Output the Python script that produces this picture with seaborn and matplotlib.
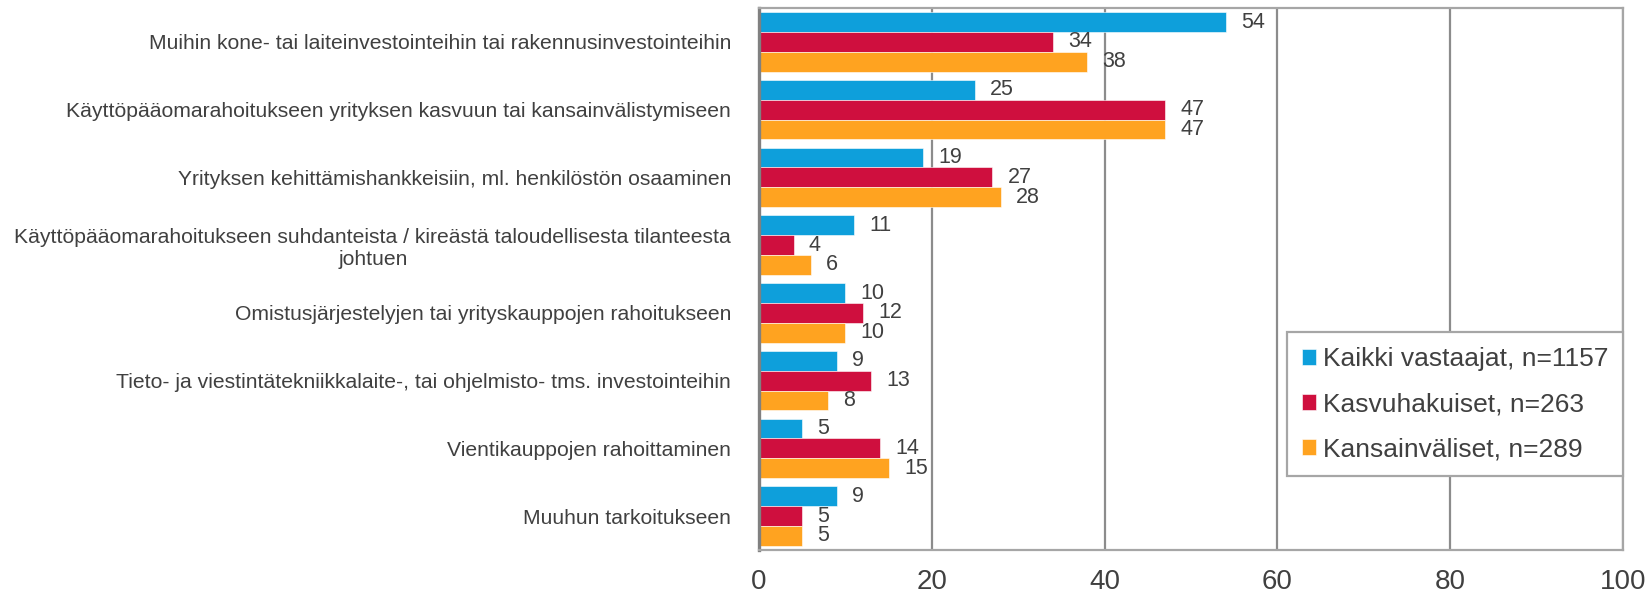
import pandas as pd
import seaborn as sns
import matplotlib.pyplot as plt

kategoriat = [
    "Muihin kone- tai laiteinvestointeihin tai rakennusinvestointeihin",
    "Käyttöpääomarahoitukseen yrityksen kasvuun tai kansainvälistymiseen",
    "Yrityksen kehittämishankkeisiin, ml. henkilöstön osaaminen",
    "Käyttöpääomarahoitukseen suhdanteista / kireästä taloudellisesta tilanteesta\njohtuen",
    "Omistusjärjestelyjen tai yrityskauppojen rahoitukseen",
    "Tieto- ja viestintätekniikkalaite-, tai ohjelmisto- tms. investointeihin",
    "Vientikauppojen rahoittaminen",
    "Muuhun tarkoitukseen",
]
ryhmat = ["Kaikki vastaajat, n=1157", "Kasvuhakuiset, n=263", "Kansainväliset, n=289"]
kaikki = [54, 25, 19, 11, 10, 9, 5, 9]
kasvuhakuiset = [34, 47, 27, 4, 12, 13, 14, 5]
kansainvaliset = [38, 47, 28, 6, 10, 8, 15, 5]
varit = ["#0E9FDB", "#CF0F3E", "#FFA320"]

df = pd.DataFrame({
    "kategoria": kategoriat * 3,
    "ryhma": [ryhmat[0]] * 8 + [ryhmat[1]] * 8 + [ryhmat[2]] * 8,
    "arvo": kaikki + kasvuhakuiset + kansainvaliset,
})

sns.set_style("white")
plt.rcParams["font.family"] = ["Liberation Sans", "DejaVu Sans"]
tekstivari = "#404040"

fig = plt.figure(figsize=(16.51, 5.96), dpi=100)
ax = fig.add_axes([759 / 1651, 1 - 550 / 596, 864 / 1651, 542 / 596])

sns.barplot(data=df, y="kategoria", x="arvo", hue="ryhma", orient="h",
            palette=varit, width=0.88, ax=ax, saturation=1,
            edgecolor="white", linewidth=0.4)

for cont in ax.containers:
    ax.bar_label(cont, fmt="%.0f", padding=11, fontsize=15.5, color=tekstivari)

ax.set_xlim(0, 100)
ax.set_xticks([0, 20, 40, 60, 80, 100])
ax.set_xlabel("")
ax.set_ylabel("")
ax.grid(axis="x", color="#8c8c8c", linewidth=1.6)
ax.set_axisbelow(True)
ax.tick_params(axis="x", length=0, pad=14, labelsize=20, labelcolor=tekstivari)
ax.tick_params(axis="y", length=0, pad=20, labelsize=15.2, labelcolor=tekstivari)
for lab in ax.get_yticklabels():
    lab.set_multialignment("center")

for puoli in ["top", "right", "bottom"]:
    ax.spines[puoli].set_color("#a6a6a6")
    ax.spines[puoli].set_linewidth(1.6)
ax.spines["left"].set_color("#808080")
ax.spines["left"].set_linewidth(2.4)

leg = ax.legend(loc="lower right", bbox_to_anchor=(1.0, 0.137), borderaxespad=0,
                fontsize=19, frameon=True, fancybox=False, framealpha=1,
                edgecolor="#a6a6a6", handlelength=0.55, handleheight=0.55,
                handletextpad=0.25, labelspacing=0.8, borderpad=0.55)
leg.get_frame().set_linewidth(1.6)
for t in leg.get_texts():
    t.set_color(tekstivari)

fig.savefig("out.png", dpi=100)
